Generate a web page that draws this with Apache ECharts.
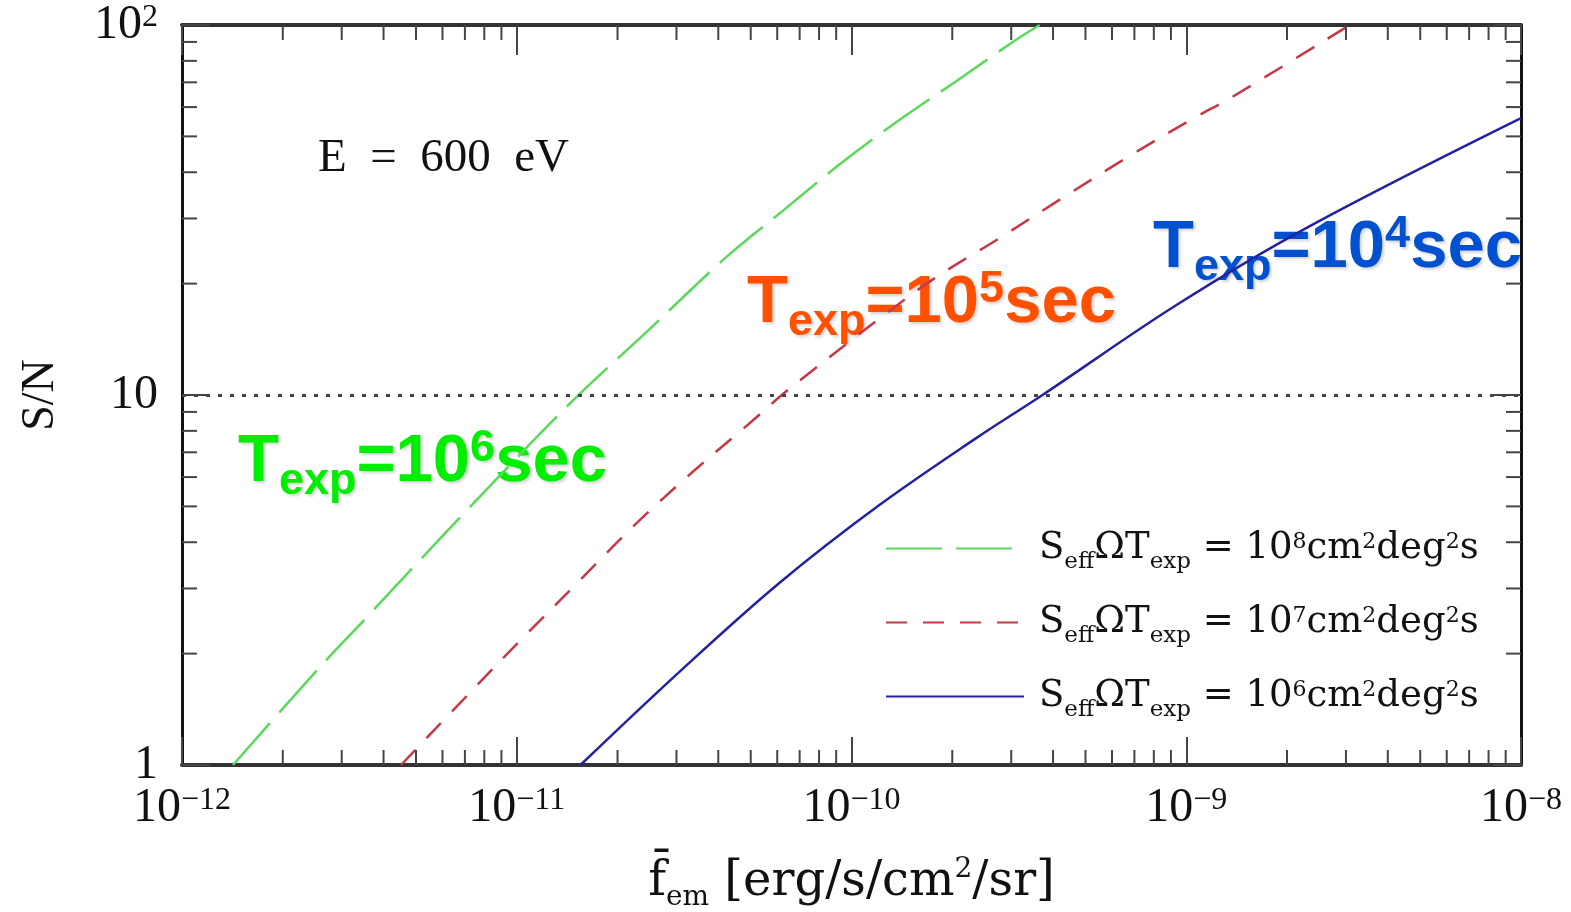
<!DOCTYPE html>
<html>
<head>
<meta charset="utf-8">
<title>S/N vs f_em</title>
<script src="https://cdn.jsdelivr.net/npm/echarts@6/dist/echarts.min.js"></script>
<style>
html, body { margin: 0; padding: 0; background: #fff; }
#main { width: 1571px; height: 912px; }
</style>
</head>
<body>
<div id="main"></div>
<script>
// curves: f_em [erg/s/cm2/sr] vs S/N
var fem_8 = [1.42e-12, 2.54e-12, 3.58e-12, 5.05e-12, 7.05e-12, 1.43e-11, 2.48e-11, 4.25e-11, 6.27e-11, 9.18e-11, 1.36e-10, 2.06e-10, 3.08e-10, 3.65e-10];
var sn_8  = [1.0, 1.81, 2.52, 3.52, 4.85, 9.42, 15.0, 23.7, 31.6, 41.9, 54.6, 70.6, 90.8, 100];

var fem_7 = [4.51e-12, 7.20e-12, 1.05e-11, 1.53e-11, 2.26e-11, 3.37e-11, 5.04e-11, 6.19e-11, 7.60e-11, 1.17e-10, 1.76e-10, 2.76e-10, 4.27e-10, 6.78e-10, 1.06e-9, 1.34e-9, 3.08e-9];
var sn_7  = [1.0, 1.56, 2.22, 3.13, 4.47, 6.22, 8.49, 10.0, 11.6, 15.7, 20.6, 26.5, 34.1, 44.3, 56.2, 63.1, 100];

var fem_6 = [1.55e-11, 3.05e-11, 6.05e-11, 1.20e-10, 2.37e-10, 3.72e-10, 9.25e-10, 2.34e-9, 1.0e-8];
var sn_6  = [1.0, 1.78, 3.09, 5.01, 7.67, 10.0, 17.4, 28.6, 56.0];

var seriesNames = ['1e8', '1e7', '1e6'];
var legendPow = ['8', '7', '6'];

// axis range and minor tick mantissas
var xMin = 1e-12, xMax = 1e-8;
var yMin = 1, yMax = 100;
var minorMant = [2, 3, 4, 5, 6, 7, 8, 9];
var xDecades = [1e-12, 1e-11, 1e-10, 1e-9];
var yDecades = [1, 10];
var snLimit = 10;

function zip(a, b) {
    var out = [];
    for (var i = 0; i < a.length; i++) out.push([a[i], b[i]]);
    return out;
}

var xMinor = [], yMinor = [];
xDecades.forEach(function (d) { minorMant.forEach(function (m) { xMinor.push([m * d, yMin]); }); });
yDecades.forEach(function (d) { minorMant.forEach(function (m) { yMinor.push([xMin, m * d]); }); });

var supRich = {
    b: { fontFamily: 'Liberation Serif', fontSize: 48, lineHeight: 50, color: '#111', verticalAlign: 'middle' },
    s: { fontFamily: 'Liberation Serif', fontSize: 32, lineHeight: 50, color: '#111', verticalAlign: 'middle', padding: [0, 0, 14, 0] }
};

function xLabel(v) {
    var e = Math.round(Math.log(v) / Math.LN10);
    return '{b|10}{s|' + (e < 0 ? '\u2212' + (-e) : e) + '}';
}
function yLabel(v) {
    var e = Math.round(Math.log(v) / Math.LN10);
    if (e === 0) return '{b|1}';
    if (e === 1) return '{b|10}';
    return '{b|10}{s|' + e + '}';
}

function minorX(params, api) {
    var b = api.coord([api.value(0), yMin]);
    var t = api.coord([api.value(0), yMax]);
    var st = { stroke: '#444', lineWidth: 2 };
    return { type: 'group', children: [
        { type: 'line', shape: { x1: b[0], y1: b[1], x2: b[0], y2: b[1] - 15 }, style: st },
        { type: 'line', shape: { x1: t[0], y1: t[1], x2: t[0], y2: t[1] + 15 }, style: st }
    ]};
}
function minorY(params, api) {
    var l = api.coord([xMin, api.value(1)]);
    var r = api.coord([xMax, api.value(1)]);
    var st = { stroke: '#444', lineWidth: 2 };
    return { type: 'group', children: [
        { type: 'line', shape: { x1: l[0], y1: l[1], x2: l[0] + 15, y2: l[1] }, style: st },
        { type: 'line', shape: { x1: r[0], y1: r[1], x2: r[0] - 15, y2: r[1] }, style: st }
    ]};
}

function texpText(pow) {
    return '{m|T}{sub|exp}{m|=10}{sup|' + pow + '}{m|sec}';
}
function texpRich(color) {
    var base = { fontFamily: 'Liberation Sans', fontWeight: 'bold', fill: color, lineHeight: 70, verticalAlign: 'middle',
                 textShadowColor: 'rgba(0,0,0,0.18)', textShadowBlur: 3, textShadowOffsetX: 2, textShadowOffsetY: 2 };
    return {
        m: Object.assign({}, base, { fontSize: 67 }),
        sub: Object.assign({}, base, { fontSize: 45, padding: [38, 0, 0, 0] }),
        sup: Object.assign({}, base, { fontSize: 45, padding: [0, 0, 29, 0] })
    };
}

var frameAxis = {
    type: 'log',
    logBase: 10,
    axisLine: { lineStyle: { color: '#333', width: 4 } },
    axisTick: { inside: true, length: 28, lineStyle: { color: '#444', width: 2 } },
    splitLine: { show: false },
    minorTick: { show: false }
};

var myChart = echarts.init(document.getElementById('main'));
var option = {
    backgroundColor: '#fff',
    animation: false,
    grid: { left: 182, right: 50, top: 25, bottom: 147, outerBoundsMode: 'none', containLabel: false },
    xAxis: [
        Object.assign({}, frameAxis, {
            min: xMin, max: xMax, splitNumber: 4, position: 'bottom',
            axisLabel: { margin: 18, formatter: xLabel, rich: supRich, showMinLabel: true, showMaxLabel: true },
            name: '{f|f\u0304}{sub|em}{t| [erg/s/cm}{sup|2}{t|/sr]}',
            nameLocation: 'middle', nameGap: 90,
            nameTextStyle: { rich: {
                f: { fontFamily: 'DejaVu Serif', fontSize: 48, lineHeight: 56, color: '#111', verticalAlign: 'middle' },
                sub: { fontFamily: 'DejaVu Serif', fontSize: 28, lineHeight: 56, color: '#111', verticalAlign: 'middle', padding: [30, 0, 0, 0] },
                t: { fontFamily: 'DejaVu Serif', fontSize: 48, lineHeight: 56, color: '#111', verticalAlign: 'middle' },
                sup: { fontFamily: 'DejaVu Serif', fontSize: 28, lineHeight: 56, color: '#111', verticalAlign: 'middle', padding: [0, 0, 26, 0] }
            } }
        }),
        Object.assign({}, frameAxis, {
            min: xMin, max: xMax, splitNumber: 4, position: 'top',
            axisTick: { inside: true, length: 30, lineStyle: { color: '#444', width: 2 } },
            axisLabel: { show: false }
        })
    ],
    yAxis: [
        Object.assign({}, frameAxis, {
            min: yMin, max: yMax, splitNumber: 2, position: 'left',
            axisLine: { lineStyle: { color: '#111', width: 3 } },
            axisLabel: { margin: 24, formatter: yLabel, rich: supRich },
            name: 'S/N', nameLocation: 'middle', nameGap: 118, nameRotate: 90,
            nameTextStyle: { fontFamily: 'Liberation Serif', fontSize: 46, color: '#111' }
        }),
        Object.assign({}, frameAxis, {
            min: yMin, max: yMax, splitNumber: 2, position: 'right',
            axisLine: { lineStyle: { color: '#111', width: 3 } },
            axisLabel: { show: false }
        })
    ],
    legend: {
        data: seriesNames,
        orient: 'vertical',
        left: 880,
        top: 518,
        itemWidth: 138,
        itemHeight: 14,
        itemGap: 23,
        itemStyle: { color: 'rgba(0,0,0,0)', borderWidth: 0, opacity: 0 },
        formatter: function (name) {
            var p = legendPow[seriesNames.indexOf(name)];
            return '{m|S}{sub|eff}{m|\u03A9T}{sub|exp}{m| = 10}{sup|' + p + '}{m|cm}{sup|2}{m|deg}{sup|2}{m|s}';
        },
        textStyle: {
            padding: [0, 0, 0, 10],
            rich: {
                m: { fontFamily: 'DejaVu Serif', fontSize: 37, lineHeight: 50, color: '#111', verticalAlign: 'middle' },
                sub: { fontFamily: 'DejaVu Serif', fontSize: 23, lineHeight: 50, color: '#111', verticalAlign: 'middle', padding: [28, 0, 0, 0] },
                sup: { fontFamily: 'DejaVu Serif', fontSize: 22, lineHeight: 50, color: '#111', verticalAlign: 'middle', padding: [0, 0, 12, 0] }
            }
        }
    },
    graphic: [
        { type: 'text', x: 318, y: 159, silent: true,
          style: { text: 'E  =  600  eV', font: '47px "Liberation Serif"', fill: '#111', align: 'left', verticalAlign: 'middle' } },
        { type: 'text', x: 238, y: 463, silent: true,
          style: { text: texpText('6'), align: 'left', verticalAlign: 'middle', rich: texpRich('#00ee00') } },
        { type: 'text', x: 747, y: 304, silent: true,
          style: { text: texpText('5'), align: 'left', verticalAlign: 'middle', rich: texpRich('#ff5000') } },
        { type: 'text', x: 1153, y: 249, silent: true,
          style: { text: texpText('4'), align: 'left', verticalAlign: 'middle', rich: texpRich('#0050d0') } }
    ],
    series: [
        {
            name: seriesNames[0], type: 'line', data: zip(fem_8, sn_8),
            symbol: 'none', showSymbol: false, smooth: 0.35, clip: true,
            lineStyle: { color: '#5cd85c', width: 2.5, type: [56, 14] },
            itemStyle: { color: '#5cd85c' }
        },
        {
            name: seriesNames[1], type: 'line', data: zip(fem_7, sn_7),
            symbol: 'none', showSymbol: false, smooth: 0.35, clip: true,
            lineStyle: { color: '#c53848', width: 2.5, type: [21, 16] },
            itemStyle: { color: '#c53848' }
        },
        {
            name: seriesNames[2], type: 'line', data: zip(fem_6, sn_6),
            symbol: 'none', showSymbol: false, smooth: 0.35, clip: true,
            lineStyle: { color: '#2522a0', width: 2.5 },
            itemStyle: { color: '#2522a0' },
            markLine: {
                silent: true, symbol: 'none', label: { show: false },
                lineStyle: { type: [4, 8], color: '#444', width: 3 },
                data: [{ yAxis: snLimit }]
            }
        },
        { type: 'custom', silent: true, data: xMinor, renderItem: minorX, z: 5 },
        { type: 'custom', silent: true, data: yMinor, renderItem: minorY, z: 5 }
    ]
};
myChart.setOption(option);
</script>
</body>
</html>
